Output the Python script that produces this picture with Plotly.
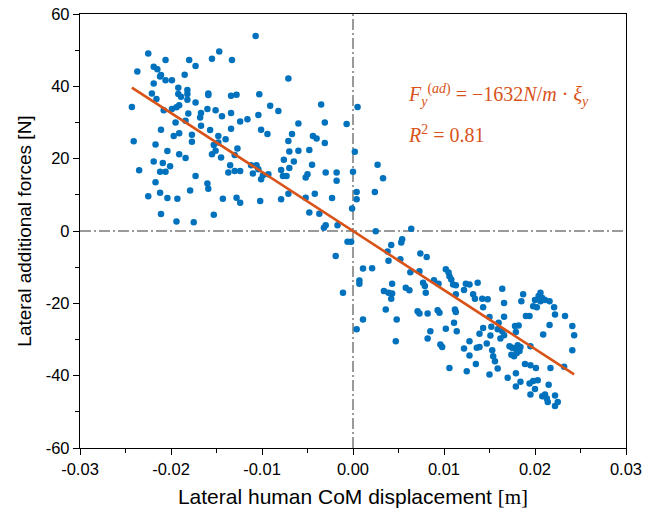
import plotly.graph_objects as go

# ---- data ----
x_disp = [
    -0.0225, -0.0147, -0.0237, -0.0206, -0.0180, -0.0155, -0.0173, -0.0219, -0.0215, -0.0211,
    -0.0212, -0.0199, -0.0206, -0.0185, -0.0219, -0.0192, -0.0182, -0.0221, -0.0192, -0.0182,
    -0.0159, -0.0216, -0.0189, -0.0182, -0.0159, -0.0173, -0.0243, -0.0191, -0.0208, -0.0199,
    -0.0194, -0.0160, -0.0151, -0.0167, -0.0168, -0.0181, -0.0144, -0.0134, -0.0184, -0.0195,
    -0.0167, -0.0211, -0.0157, -0.0191, -0.0177, -0.0197, -0.0148, -0.0134, -0.0134, -0.0133,
    -0.0107, -0.0071, -0.0128, -0.0103, -0.0091, -0.0082, -0.0035, -0.0104, -0.0116, -0.0124,
    -0.0060, -0.0031, -0.0101, -0.0094, -0.0067, -0.0044,
    -0.0241, -0.0217, -0.0177, -0.0204, -0.0191, -0.0184, -0.0219, -0.0209, -0.0201, -0.0235,
    -0.0212, -0.0206, -0.0173, -0.0217, -0.0160, -0.0159, -0.0179, -0.0212, -0.0225, -0.0204,
    -0.0193, -0.0143, -0.0211, -0.0153, -0.0194, -0.0175, -0.0155, -0.0151, -0.0153, -0.0148,
    -0.0140, -0.0145, -0.0135, -0.0137,
    -0.0127, -0.0130, -0.0130, -0.0124, -0.0112, -0.0106, -0.0104, -0.0110, -0.0101, -0.0099,
    -0.0093, -0.0071, -0.0070, -0.0060, -0.0048, -0.0040, -0.0031, -0.0076, -0.0065, -0.0045,
    -0.0079, -0.0070, -0.0077, -0.0073, -0.0052, -0.0050, -0.0030, -0.0018, -0.0018, -0.0128,
    -0.0124, -0.0102, -0.0079, -0.0071, -0.0052, -0.0042, -0.0023, -0.0048, -0.0037, -0.0032,
    -0.0030, -0.0017,
    0.0002, 0.0027, 0.0000, 0.0033, 0.0004, 0.0004, 0.0024, -0.0001, 0.0025, 0.0064,
    -0.0006, -0.0002, 0.0042, 0.0054, 0.0053, 0.0038, 0.0074, 0.0081, -0.0019, 0.0052,
    0.0011, 0.0021, 0.0039, 0.0007, 0.0007, -0.0011, 0.0043, 0.0034, 0.0039, 0.0043,
    0.0042, 0.0058, 0.0062, 0.0063, 0.0073, 0.0077, 0.0079, 0.0080, 0.0089, 0.0094,
    0.0036, 0.0071, 0.0073, 0.0082, 0.0093, 0.0095, 0.0011, 0.0048, 0.0004, 0.0085,
    0.0082, 0.0047, 0.0096,
    0.0102, 0.0105, 0.0106, 0.0108, 0.0110, 0.0113, 0.0124, 0.0128, 0.0137, 0.0122,
    0.0113, 0.0132, 0.0134, 0.0142, 0.0148, 0.0164, 0.0166, 0.0143, 0.0112, 0.0185,
    0.0187, 0.0200, 0.0204, 0.0206, 0.0208, 0.0206, 0.0211, 0.0198, 0.0202, 0.0216,
    0.0221,
    0.0113, 0.0111, 0.0102, 0.0114, 0.0098, 0.0150, 0.0160, 0.0166, 0.0143, 0.0139,
    0.0152, 0.0151, 0.0159, 0.0164, 0.0166, 0.0162, 0.0178, 0.0182, 0.0179, 0.0190,
    0.0194, 0.0216, 0.0209, 0.0128, 0.0122, 0.0136, 0.0139, 0.0147, 0.0153, 0.0128,
    0.0154, 0.0156, 0.0135, 0.0159, 0.0125, 0.0106, 0.0150, 0.0172, 0.0175, 0.0178,
    0.0181, 0.0184, 0.0183, 0.0180, 0.0174, 0.0177, 0.0195, 0.0189, 0.0195, 0.0201,
    0.0179, 0.0170, 0.0184, 0.0179, 0.0194, 0.0198, 0.0203, 0.0200, 0.0195, 0.0215,
    0.0208, 0.0211, 0.0213, 0.0214,
    0.0222, 0.0233, 0.0241, 0.0243, 0.0241, 0.0232, 0.0217, 0.0222, 0.0225, 0.0222,
    0.0005, -0.0007,
]
y_force = [
    49.1, 49.6, 44.1, 47.3, 47.3, 47.6, 45.6, 45.4, 44.7, 43.1,
    42.7, 41.7, 41.7, 43.2, 40.8, 39.6, 39.0, 38.0, 37.9, 37.9,
    38.0, 36.5, 37.1, 36.3, 37.6, 35.5, 34.3, 34.8, 33.4, 33.7,
    34.2, 33.7, 33.4, 32.6, 31.4, 32.5, 31.7, 32.6, 30.5, 30.0,
    29.1, 28.0, 27.9, 27.0, 26.6, 26.3, 26.3, 37.4, 28.3, 47.3,
    53.9, 42.2, 37.7, 37.8, 34.6, 33.2, 35.0, 32.1, 30.9, 30.3,
    29.7, 30.0, 28.0, 26.8, 26.8, 26.3,
    24.8, 23.9, 24.7, 22.1, 21.2, 20.2, 19.2, 18.8, 17.9, 16.8,
    16.4, 16.4, 15.2, 13.5, 13.1, 11.7, 11.2, 10.6, 9.6, 9.1,
    8.9, 8.9, 4.7, 4.5, 2.6, 2.4, 21.2, 22.2, 23.8, 24.5,
    25.4, 20.3, 18.2, 16.2,
    22.8, 21.0, 16.6, 16.6, 18.2, 18.2, 17.1, 15.9, 14.3, 15.4,
    15.7, 24.9, 22.0, 22.2, 22.4, 25.6, 24.3, 19.7, 19.2, 18.3,
    16.9, 17.4, 15.2, 15.2, 14.8, 15.7, 16.2, 16.2, 13.9, 9.2,
    7.8, 8.3, 8.8, 10.3, 9.2, 10.3, 9.1, 5.1, 4.8, 0.9,
    1.6, 1.6,
    21.9, 18.3, 16.4, 14.6, 10.8, 8.8, 10.8, 6.2, -0.1, 0.6,
    -3.0, -3.0, -3.9, -2.3, -3.2, -5.7, -6.2, -7.2, -6.9, -7.8,
    -10.4, -10.3, -8.2, -13.7, -14.6, -17.1, -14.6, -16.6, -17.1, -17.3,
    -18.7, -15.7, -16.4, -11.4, -11.1, -14.3, -15.2, -17.1, -13.6, -14.6,
    -21.7, -22.2, -22.8, -22.8, -21.9, -22.6, -24.5, -24.5, -27.2, -27.7,
    -29.7, -30.5, -31.4,
    -10.6, -11.5, -12.5, -13.4, -14.8, -15.0, -14.6, -14.8, -14.3, -16.3,
    -17.5, -17.5, -18.7, -18.7, -18.9, -16.0, -19.9, -21.1, -21.7, -19.4,
    -17.5, -19.1, -18.0, -17.1, -18.5, -19.4, -19.1, -20.8, -21.1, -19.4,
    -21.1,
    -22.4, -25.4, -27.0, -27.7, -32.1, -23.8, -25.4, -23.7, -26.8, -28.4,
    -26.5, -28.9, -27.2, -27.7, -28.8, -29.7, -26.3, -26.1, -27.9, -23.5,
    -23.5, -26.0, -28.6, -30.5, -32.5, -32.3, -32.1, -31.1, -33.0, -34.4,
    -34.6, -36.0, -36.8, -38.0, -38.8, -37.9, -39.7, -31.9, -32.3, -32.5,
    -31.6, -32.1, -33.2, -33.7, -34.2, -34.6, -31.9, -36.8, -37.1, -37.9,
    -39.3, -40.6, -41.7, -43.0, -42.2, -41.5, -41.3, -43.7, -45.2, -42.5,
    -45.7, -45.2, -46.3, -47.3,
    -23.1, -23.5, -26.3, -28.8, -33.0, -37.5, -37.9, -45.5, -47.3, -48.4,
    34.3, 29.6,
]

fit_slope = -1632.0   # N/m, from the annotation
fit_intercept = 0.0
r_squared = "0.81"

x_tick_vals = [-0.03, -0.02, -0.01, 0.0, 0.01, 0.02, 0.03]
x_tick_text = ["-0.03", "-0.02", "-0.01", "0.00", "0.01", "0.02", "0.03"]
y_tick_vals = [-60, -40, -20, 0, 20, 40, 60]
y_tick_text = ["-60", "-40", "-20", "0", "20", "40", "60"]

BLUE = "#0072BD"
ORANGE = "#D95319"
GRAY = "#7a7a7a"

fit_x = [min(x_disp), max(x_disp)]
fit_y = [fit_slope * v + fit_intercept for v in fit_x]

fig = go.Figure()
fig.add_trace(go.Scatter(
    x=x_disp, y=y_force, mode="markers",
    marker=dict(color=BLUE, size=6.5, line=dict(width=0)),
    showlegend=False, hoverinfo="skip",
))
fig.add_trace(go.Scatter(
    x=fit_x, y=fit_y, mode="lines",
    line=dict(color=ORANGE, width=2.6),
    showlegend=False, hoverinfo="skip",
))

dash_pattern = "11px,3px,2px,3px"
fig.add_hline(y=0, line=dict(color=GRAY, width=1.5, dash=dash_pattern), layer="below")
fig.add_vline(x=0, line=dict(color=GRAY, width=1.5, dash=dash_pattern), layer="below")

tick_font = dict(family="Liberation Sans, Arial", size=16.5, color="black")
x_title_font = dict(family="Liberation Sans, Arial", size=21, color="black")
y_title_font = dict(family="Liberation Sans, Arial", size=19, color="black")

common = dict(
    showline=True, linecolor="black", linewidth=1.4, mirror=True,
    showgrid=False, zeroline=False, automargin=False,
    ticks="outside", ticklen=6, tickwidth=1.3, tickcolor="black",
    tickfont=tick_font,
)

fig.update_layout(
    width=657, height=519,
    margin=dict(l=80, r=31, t=14, b=71),
    paper_bgcolor="white", plot_bgcolor="white",
    xaxis=dict(
        range=[-0.03, 0.03], tickvals=x_tick_vals, ticktext=x_tick_text,
        minor=dict(ticks="outside", ticklen=3.5, tickwidth=1.2, tickcolor="black", dtick=0.005),
        title=dict(text="Lateral human CoM displacement <span style='font-family:Liberation Serif'>[m]</span>",
                   font=x_title_font, standoff=12),
        **common,
    ),
    yaxis=dict(
        range=[-60, 60], tickvals=y_tick_vals, ticktext=y_tick_text,
        minor=dict(ticks="outside", ticklen=3.5, tickwidth=1.2, tickcolor="black", dtick=10),
        title=dict(text="Lateral additional forces [N]", font=y_title_font, standoff=8),
        **common,
    ),
    xaxis2=dict(
        overlaying="x", matches="x", side="top", range=[-0.03, 0.03],
        tickvals=x_tick_vals, showticklabels=False, automargin=False,
        ticks="inside", ticklen=6, tickwidth=1.3, tickcolor="black",
        minor=dict(ticks="inside", ticklen=3.5, tickwidth=1.2, tickcolor="black", dtick=0.005),
        showgrid=False, zeroline=False, showline=False,
    ),
    yaxis2=dict(
        overlaying="y", matches="y", side="right", range=[-60, 60],
        tickvals=y_tick_vals, showticklabels=False, automargin=False,
        ticks="inside", ticklen=6, tickwidth=1.3, tickcolor="black",
        minor=dict(ticks="inside", ticklen=3.5, tickwidth=1.2, tickcolor="black", dtick=10),
        showgrid=False, zeroline=False, showline=False,
    ),
    annotations=[
        dict(x=0.0058, y=37.5, xref="x", yref="y", xanchor="left", yanchor="middle",
             showarrow=False,
             text="<i>F</i><sub><i>y</i></sub><sup>(<i>ad</i>)</sup> = \u22121632<i>N</i>/<i>m</i> \u00b7 <i>\u03be</i><sub><i>y</i></sub>",
             font=dict(family="Liberation Serif, serif", size=20, color=ORANGE)),
        dict(x=0.0058, y=26.8, xref="x", yref="y", xanchor="left", yanchor="middle",
             showarrow=False,
             text="<i>R</i><sup>2</sup> = " + r_squared,
             font=dict(family="Liberation Serif, serif", size=20, color=ORANGE)),
    ],
)

# remove the browser's default 8px body margin so the figure sits at the page origin
fig.write_html(
    "out.html",
    config={"displayModeBar": False},
    post_script="document.body.style.margin='0';document.body.style.padding='0';",
)
